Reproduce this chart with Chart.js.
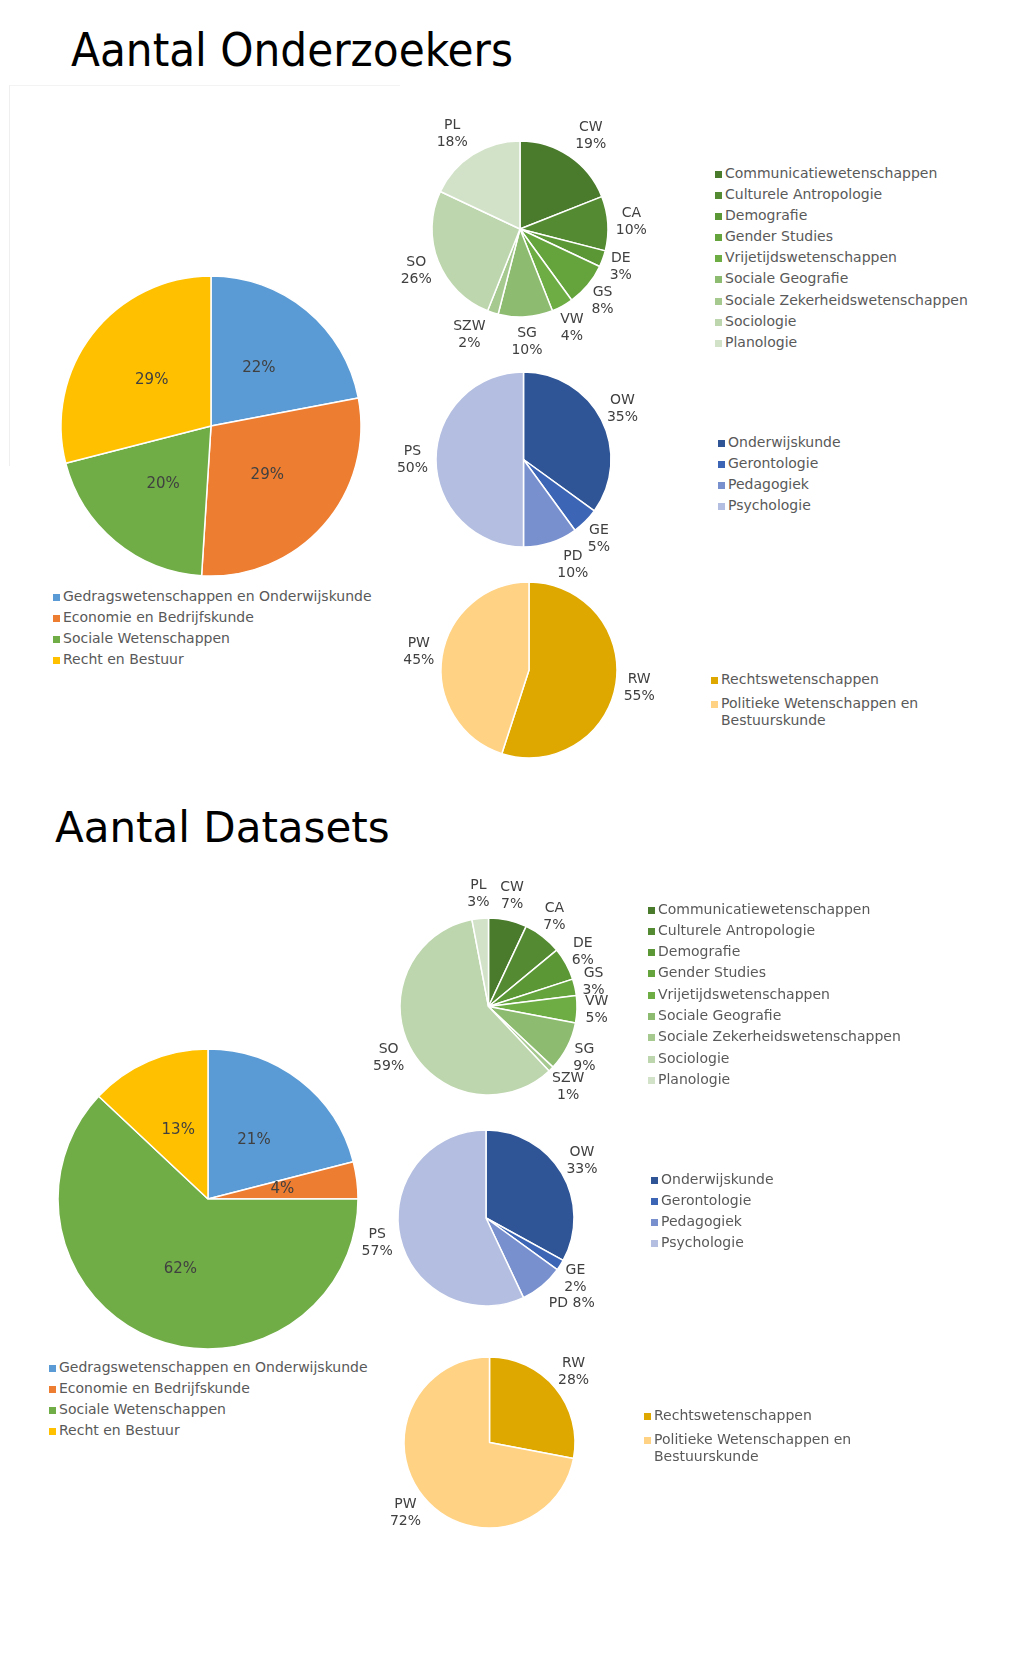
<!DOCTYPE html>
<html>
<head>
<meta charset="utf-8">
<script src="https://cdn.jsdelivr.net/npm/chart.js@4.4.1/dist/chart.umd.min.js"></script>
<style>
  body { margin: 0; background: #fff; }
  #page { position: relative; width: 1024px; height: 1671px; overflow: hidden; font-family: "DejaVu Sans", Verdana, sans-serif; }
  .title { position: absolute; color: #000; white-space: nowrap; line-height: 1; }
  .pie { position: absolute; }
  .legend { position: absolute; font-size: 14px; color: #595959; }
  .legend .item { position: relative; padding-left: 10px; line-height: 17px; white-space: nowrap; }
  .legend .sw { position: absolute; left: 0; top: 6px; width: 7px; height: 7px; }
  .frame { position: absolute; border-left: 1px solid #efefef; border-top: 1px solid #f3f3f3; }
</style>
</head>
<body>
<div id="page">
  <div class="title" style="left:71px;top:26px;font-size:47px;font-family:'DejaVu Sans Condensed','DejaVu Sans';font-stretch:condensed;">Aantal Onderzoekers</div>
  <div class="frame" style="left:9px;top:85px;width:390px;height:380px;"></div>
  <div class="title" style="left:55px;top:807px;font-size:42px;">Aantal Datasets</div>
</div>

<script>
// faculteiten (grote taarten)
const facLabels = ['Gedragswetenschappen en Onderwijskunde', 'Economie en Bedrijfskunde', 'Sociale Wetenschappen', 'Recht en Bestuur'];
const facColors = ['#5B9BD5', '#ED7D31', '#70AD47', '#FFC000'];

// Sociale Wetenschappen
const swCodes = ['CW', 'CA', 'DE', 'GS', 'VW', 'SG', 'SZW', 'SO', 'PL'];
const swLabels = ['Communicatiewetenschappen', 'Culturele Antropologie', 'Demografie', 'Gender Studies',
  'Vrijetijdswetenschappen', 'Sociale Geografie', 'Sociale Zekerheidswetenschappen', 'Sociologie', 'Planologie'];
const swColors = ['#4A7A2B', '#548A31', '#5C9736', '#65A33D', '#6DAD44', '#8DBB6F', '#A5C98F', '#BDD6AD', '#D2E2C8'];

// Gedragswetenschappen en Onderwijskunde
const gwCodes = ['OW', 'GE', 'PD', 'PS'];
const gwLabels = ['Onderwijskunde', 'Gerontologie', 'Pedagogiek', 'Psychologie'];
const gwColors = ['#2F5597', '#3C65B5', '#7990CF', '#B3BEE0'];

// Recht en Bestuur
const rbCodes = ['RW', 'PW'];
const rbLabels = ['Rechtswetenschappen', ['Politieke Wetenschappen en', 'Bestuurskunde']];
const rbColors = ['#DFA800', '#FFD284'];

// Aantal Onderzoekers (%)
const onderzoekersFac = [22, 29, 20, 29];
const onderzoekersSw = [19, 10, 3, 8, 4, 10, 2, 26, 18];
const onderzoekersGw = [35, 5, 10, 50];
const onderzoekersRb = [55, 45];

// Aantal Datasets (%)
const datasetsFac = [21, 4, 62, 13];
const datasetsSw = [7, 7, 6, 3, 5, 9, 1, 59, 3];
const datasetsGw = [33, 2, 8, 57];
const datasetsRb = [28, 72];

// labels: binnen (percentage) of buiten (code + percentage)
const sliceLabels = {
  id: 'sliceLabels',
  afterDatasetsDraw(chart, args, o) {
    const ctx = chart.ctx;
    const meta = chart.getDatasetMeta(0);
    const values = chart.data.datasets[0].data;
    const lh = 17;
    ctx.save();
    ctx.font = (o.inside ? '15px' : '14px') + ' "DejaVu Sans", Verdana, sans-serif';
    ctx.fillStyle = '#404040';
    ctx.textAlign = 'center';
    ctx.textBaseline = 'middle';
    meta.data.forEach((arc, i) => {
      const p = arc.getProps(['x', 'y', 'startAngle', 'endAngle', 'outerRadius'], true);
      const mid = (p.startAngle + p.endAngle) / 2;
      const c = Math.cos(mid), s = Math.sin(mid);
      const pct = values[i] + '%';
      let lines, tx, ty;
      if (o.inside) {
        lines = [pct];
        tx = p.x + c * p.outerRadius * 0.5;
        ty = p.y + s * p.outerRadius * 0.5;
      } else {
        const code = o.codes[i];
        lines = (o.inline || []).includes(code) ? [code + ' ' + pct] : [code, pct];
        const w = Math.max(...lines.map(l => ctx.measureText(l).width));
        const h = lines.length * lh;
        const R = p.outerRadius + 8;
        tx = p.x + c * R + c * w / 2;
        ty = p.y + s * R + s * h / 2;
        const n = (o.nudge || {})[code];
        if (n) { tx += n[0]; ty += n[1]; }
      }
      lines.forEach((l, k) => ctx.fillText(l, tx, ty + (k - (lines.length - 1) / 2) * lh));
    });
    ctx.restore();
  }
};

const page = document.getElementById('page');

function addPie(cx, cy, r, labels, values, colors, lab) {
  const w = 2 * r + (lab.inside ? 12 : 180);
  const h = 2 * r + (lab.inside ? 12 : 120);
  const box = document.createElement('div');
  box.className = 'pie';
  box.style.left = (cx - w / 2) + 'px';
  box.style.top = (cy - h / 2) + 'px';
  box.style.width = w + 'px';
  box.style.height = h + 'px';
  const cv = document.createElement('canvas');
  box.appendChild(cv);
  page.appendChild(box);
  return new Chart(cv, {
    type: 'pie',
    data: {
      labels: labels,
      datasets: [{
        data: values,
        backgroundColor: colors,
        borderColor: '#ffffff',
        borderWidth: 1.5,
      }],
    },
    options: {
      responsive: true,
      maintainAspectRatio: false,
      animation: false,
      events: [],
      radius: r,
      layout: { padding: 0 },
      plugins: {
        legend: { display: false },
        tooltip: { enabled: false },
        sliceLabels: lab,
      },
    },
    plugins: [sliceLabels],
  });
}

function addLegend(chart, x, y, rowStep) {
  const el = document.createElement('div');
  el.className = 'legend';
  el.style.left = x + 'px';
  el.style.top = (y - 8.5) + 'px';
  const ds = chart.data.datasets[0];
  chart.data.labels.forEach((lbl, i) => {
    const it = document.createElement('div');
    it.className = 'item';
    it.style.marginBottom = (rowStep - 17) + 'px';
    const sw = document.createElement('span');
    sw.className = 'sw';
    sw.style.background = ds.backgroundColor[i];
    it.appendChild(sw);
    (Array.isArray(lbl) ? lbl : [lbl]).forEach(t => {
      const line = document.createElement('div');
      line.textContent = t;
      it.appendChild(line);
    });
    el.appendChild(it);
  });
  page.appendChild(el);
}

// Aantal Onderzoekers
const c1 = addPie(211, 426, 150, facLabels, onderzoekersFac, facColors, { inside: true });
addLegend(c1, 53, 596, 21.3);
const c2 = addPie(520, 229, 88, swLabels, onderzoekersSw, swColors,
  { codes: swCodes, nudge: { CW: [8, 0], PL: [-8, 0], SZW: [-16, -2] } });
addLegend(c2, 715, 173, 21.2);
const c3 = addPie(523, 459, 87.5, gwLabels, onderzoekersGw, gwColors,
  { codes: gwCodes, nudge: { PD: [15, -2] } });
addLegend(c3, 718, 442, 21.3);
const c4 = addPie(529, 670, 88, rbLabels, onderzoekersRb, rbColors, { codes: rbCodes });
addLegend(c4, 711, 679, 24);

// Aantal Datasets
const d1 = addPie(208, 1199, 150, facLabels, datasetsFac, facColors, { inside: true });
addLegend(d1, 49, 1367, 21.3);
const d2 = addPie(488, 1006, 88.5, swLabels, datasetsSw, swColors, { codes: swCodes });
addLegend(d2, 648, 909, 21.3);
const d3 = addPie(486, 1218, 88, gwLabels, datasetsGw, gwColors,
  { codes: gwCodes, inline: ['PD'], nudge: { PD: [10, 5], GE: [-1, 0] } });
addLegend(d3, 651, 1179, 21.3);
const d4 = addPie(489, 1442, 85.5, rbLabels, datasetsRb, rbColors, { codes: rbCodes });
addLegend(d4, 644, 1415, 24.5);
</script>
</body>
</html>
